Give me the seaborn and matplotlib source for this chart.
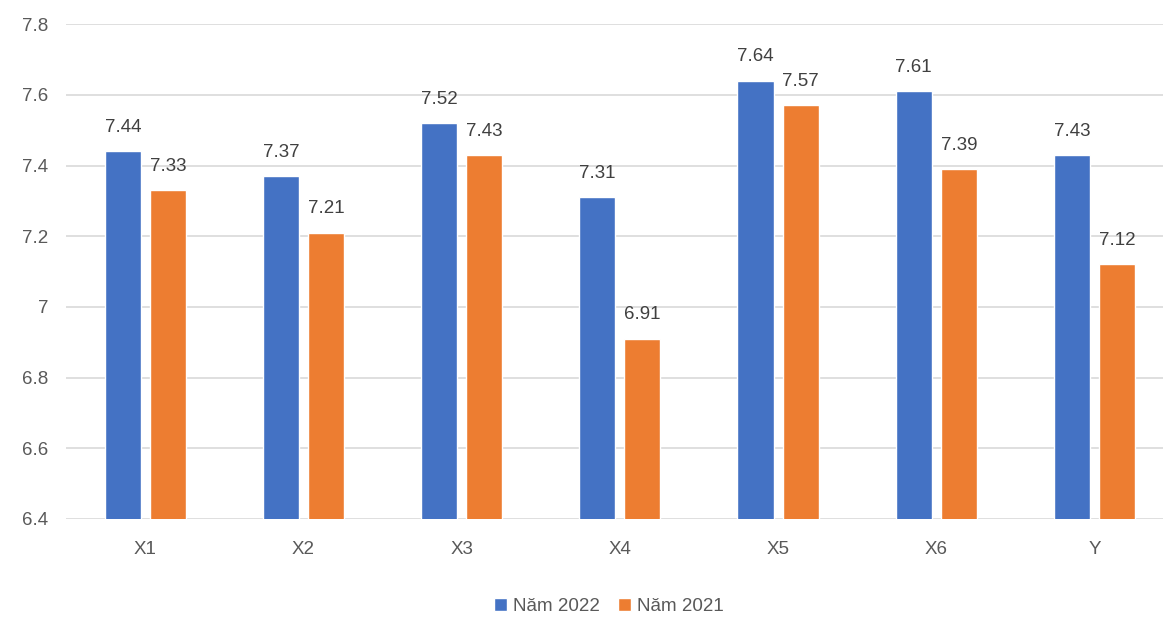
import pandas as pd
import seaborn as sns
import matplotlib.pyplot as plt
from matplotlib.ticker import FuncFormatter

categories = ["X1", "X2", "X3", "X4", "X5", "X6", "Y"]
nam_2022 = [7.44, 7.37, 7.52, 7.31, 7.64, 7.61, 7.43]
nam_2021 = [7.33, 7.21, 7.43, 6.91, 7.57, 7.39, 7.12]
series = ["Năm 2022", "Năm 2021"]

df = pd.DataFrame({"cat": categories * 2,
                   "val": nam_2022 + nam_2021,
                   "series": [series[0]] * 7 + [series[1]] * 7})

sns.set_theme(style="white")
plt.rcParams['font.family'] = ['Liberation Sans', 'DejaVu Sans']

fig = plt.figure(figsize=(11.63, 6.2), dpi=100)
ax = fig.add_axes([0.057, 0.163, 0.952, 0.798])

sns.barplot(data=df, x="cat", y="val", hue="series", ax=ax,
            palette=["#4472C4", "#ED7D31"], width=0.57, gap=0.2,
            saturation=1)

ax.set_ylim(6.4, 7.8)
ax.set_yticks([6.4, 6.6, 6.8, 7.0, 7.2, 7.4, 7.6, 7.8])
ax.yaxis.set_major_formatter(FuncFormatter(lambda v, p: f"{v:g}"))
ax.grid(axis="y", color="#D9D9D9", linewidth=1.2)
ax.set_axisbelow(True)
for s in ax.spines.values():
    s.set_visible(False)
ax.set_xlabel("")
ax.set_ylabel("")
ax.tick_params(axis="both", length=0, labelsize=13.5, labelcolor="#595959")
ax.tick_params(axis="x", pad=16)
ax.tick_params(axis="y", pad=13)

for c in ax.containers:
    ax.bar_label(c, fmt="%.2f", padding=11, fontsize=13.5, color="#404040")

ax.legend(loc="upper center", bbox_to_anchor=(0.49, -0.125), ncol=2,
          frameon=False, fontsize=13.5, handlelength=0.7, handleheight=0.7,
          columnspacing=1.0, handletextpad=0.3, labelcolor="#595959")

fig.savefig("out.png", dpi=100)
